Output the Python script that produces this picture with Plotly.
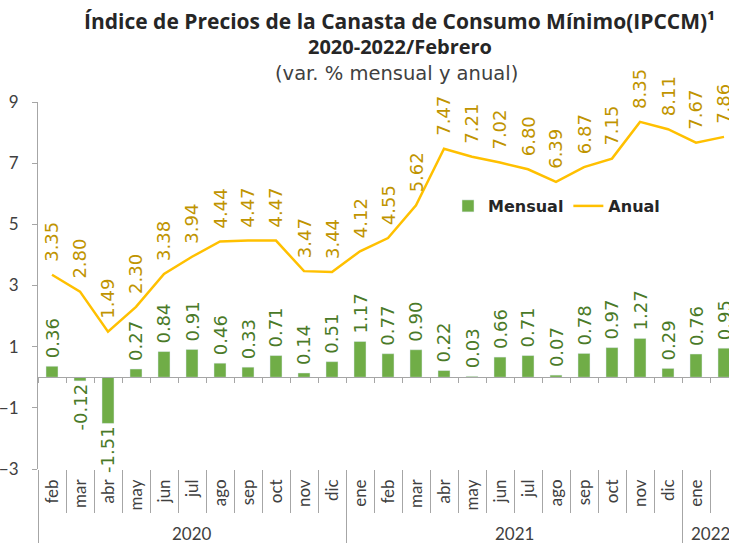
import plotly.graph_objects as go

months = ["feb", "mar", "abr", "may", "jun", "jul", "ago", "sep", "oct", "nov", "dic",
          "ene", "feb", "mar", "abr", "may", "jun", "jul", "ago", "sep", "oct", "nov", "dic",
          "ene", "feb"]
years = ["2020"] * 11 + ["2021"] * 12 + ["2022"] * 2
mensual = [0.36, -0.12, -1.51, 0.27, 0.84, 0.91, 0.46, 0.33, 0.71, 0.14, 0.51,
           1.17, 0.77, 0.90, 0.22, 0.03, 0.66, 0.71, 0.07, 0.78, 0.97, 1.27, 0.29,
           0.76, 0.95]
anual = [3.35, 2.80, 1.49, 2.30, 3.38, 3.94, 4.44, 4.47, 4.47, 3.47, 3.44,
         4.12, 4.55, 5.62, 7.47, 7.21, 7.02, 6.80, 6.39, 6.87, 7.15, 8.35, 8.11,
         7.67, 7.86]
y_ticks = [-3, -1, 1, 3, 5, 7, 9]

W, H = 729, 543
ML, MR, MT, MB = 38, 0, 102, 74
plot_w = W - ML - MR
plot_h = H - MT - MB
cat_px = 28.0
x_range = [-0.5, -0.5 + plot_w / cat_px]
y_range = [-3, 9]

GREEN = "#70AD47"
GOLD = "#FFC000"
GOLD_TXT = "#C09400"
GREEN_TXT = "#4A7A28"
GRAY_TXT = "#404040"
AXIS = "#A6A6A6"
LABEL_FONT = "DejaVu Sans"
TICK_FONT = "Lato"

idx = list(range(len(months)))

fig = go.Figure()
fig.add_trace(go.Bar(x=idx, y=mensual, name="Mensual", marker_color=GREEN,
                     width=0.43, cliponaxis=False))
fig.add_trace(go.Scatter(x=idx, y=anual, name="Anual", mode="lines",
                         line=dict(color=GOLD, width=2.5), cliponaxis=False))

ann = []
for i, v in zip(idx, mensual):
    ann.append(dict(x=i, y=v, xref="x", yref="y", text=f"{v:.2f}", textangle=-90,
                    showarrow=False, yanchor="bottom" if v >= 0 else "top",
                    yshift=6 if v >= 0 else -1,
                    font=dict(family=LABEL_FONT, size=18, color=GREEN_TXT)))
for i, v in zip(idx, anual):
    ann.append(dict(x=i, y=v, xref="x", yref="y", text=f"{v:.2f}", textangle=-90,
                    showarrow=False, yanchor="bottom", yshift=11,
                    font=dict(family=LABEL_FONT, size=18, color=GOLD_TXT)))

# year labels and boundaries
year_names = []
for y in years:
    if y not in year_names:
        year_names.append(y)
year_bounds = []
for yn in year_names:
    ids = [i for i, y in enumerate(years) if y == yn]
    ann.append(dict(x=(ids[0] + ids[-1]) / 2, y=-(533 - (H - MB)) / plot_h,
                    xref="x", yref="paper", text=yn, showarrow=False,
                    yanchor="middle", font=dict(family=TICK_FONT, size=17, color=GRAY_TXT)))
    year_bounds.append(ids[0] - 0.5)
month_bounds = [i - 0.5 for i in idx] + [idx[-1] + 0.5]

# titles
tx = (400 - ML) / plot_w
def py(pix):
    return ((H - MB) - pix) / plot_h
ann.append(dict(x=tx, y=py(21), xref="paper", yref="paper", showarrow=False,
                text="<b>Índice de Precios de la Canasta de Consumo Mínimo(IPCCM)¹</b>",
                font=dict(family="Open Sans", size=21, color="#262626"), yanchor="middle"))
ann.append(dict(x=tx, y=py(47), xref="paper", yref="paper", showarrow=False,
                text="<b>2020-2022/Febrero</b>",
                font=dict(family="Open Sans", size=20, color="#262626"), yanchor="middle"))
ann.append(dict(x=tx - 3 / plot_w, y=py(73), xref="paper", yref="paper", showarrow=False,
                text="(var. % mensual y anual)",
                font=dict(family=LABEL_FONT, size=19.5, color="#404040"), yanchor="middle"))

zero_pos = (0 - y_range[0]) / (y_range[1] - y_range[0])

fig.update_layout(
    width=W, height=H,
    margin=dict(l=ML, r=MR, t=MT, b=MB, pad=0),
    paper_bgcolor="white", plot_bgcolor="white",
    showlegend=True,
    legend=dict(orientation="h", x=(448 - ML) / plot_w, y=py(206), xanchor="left",
                yanchor="middle", bgcolor="rgba(0,0,0,0)",
                font=dict(family=LABEL_FONT, size=16, color="#262626", weight="bold"),
                itemwidth=30, tracegroupgap=0),
    annotations=ann,
    xaxis=dict(range=x_range, tickmode="array", tickvals=idx, ticktext=months,
               tickangle=-90, ticks="", showline=False, showgrid=False, zeroline=False,
               tickfont=dict(family=TICK_FONT, size=17, color=GRAY_TXT),
               ticklabelstandoff=6),
    xaxis2=dict(range=x_range, matches="x", overlaying="x", anchor="free",
                position=zero_pos, side="bottom", tickmode="array", tickvals=month_bounds,
                ticks="outside", ticklen=5, tickcolor=AXIS, showticklabels=False,
                showline=True, linecolor=AXIS, linewidth=1, showgrid=False, zeroline=False),
    xaxis3=dict(range=x_range, matches="x", overlaying="x", anchor="y", side="bottom",
                tickmode="array", tickvals=month_bounds, ticks="outside", ticklen=43,
                tickcolor=AXIS, showticklabels=False, showline=False, showgrid=False,
                zeroline=False),
    xaxis4=dict(range=x_range, matches="x", overlaying="x", anchor="y", side="bottom",
                tickmode="array", tickvals=year_bounds, ticks="outside", ticklen=74,
                tickcolor=AXIS, showticklabels=False, showline=False, showgrid=False,
                zeroline=False),
    yaxis=dict(range=y_range, tickmode="array", tickvals=y_ticks, ticks="outside",
               ticklen=5, tickcolor=AXIS, showline=True, linecolor=AXIS, linewidth=1,
               showgrid=False, zeroline=False, ticklabelstandoff=10,
               tickfont=dict(family=TICK_FONT, size=17, color=GRAY_TXT)),
)

# dummy traces so overlaying axes render
for ax in ["x2", "x3", "x4"]:
    fig.add_trace(go.Scatter(x=[None], y=[None], xaxis=ax, yaxis="y", showlegend=False,
                             hoverinfo="skip"))

fig.write_html("out.html")
